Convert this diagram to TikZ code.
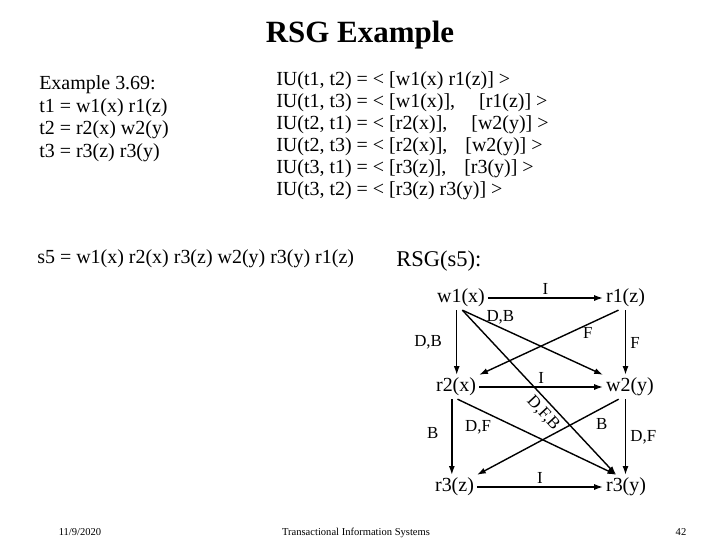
\documentclass[tikz,border=0pt]{standalone}
\usepackage{fontspec}
\setmainfont{Liberation Serif}
\usetikzlibrary{arrows.meta,positioning}
\tikzset{
  opnode/.style={anchor=west, inner sep=2pt, font=\fontsize{14.2}{16}\selectfont},
  edgelabel/.style={inner sep=2pt, font=\fontsize{12}{14}\selectfont},
  rsgarrow/.style={-{Latex[length=2.2mm,width=1.5mm]}, line width=1pt},
  slidetext/.style={anchor=base west, inner sep=0pt, font=\fontsize{14.2}{16}\selectfont},
  footertext/.style={anchor=base, inner sep=0pt, font=\fontsize{7.5}{9}\selectfont}
}

\begin{document}
\begin{tikzpicture}[x=0.025cm, y=-0.025cm]
\useasboundingbox (0,0) rectangle (720,540);
% title
\node[anchor=base, inner sep=0pt, font=\fontsize{22}{26}\selectfont\bfseries] (title) at (360,42) {RSG Example};
% transactions
\node[slidetext] (ex) at (39,89) {Example 3.69:};
\node[slidetext] (tone) at (39,112) {t1 = w1(x) r1(z)};
\node[slidetext] (ttwo) at (39,134) {t2 = r2(x) w2(y)};
\node[slidetext] (tthree) at (39,157) {t3 = r3(z) r3(y)};
% interleaving units
\node[slidetext] (iuA) at (276,85) {IU(t1, t2) = < [w1(x) r1(z)] >};
\node[slidetext] (iuB) at (276,107) {IU(t1, t3) = < [w1(x)],\hspace{1.2em}[r1(z)] >};
\node[slidetext] (iuC) at (276,129) {IU(t2, t1) = < [r2(x)],\hspace{1.2em}[w2(y)] >};
\node[slidetext] (iuD) at (276,151) {IU(t2, t3) = < [r2(x)],\hspace{0.9em}[w2(y)] >};
\node[slidetext] (iuE) at (276,173) {IU(t3, t1) = < [r3(z)],\hspace{0.9em}[r3(y)] >};
\node[slidetext] (iuF) at (276,195) {IU(t3, t2) = < [r3(z) r3(y)] >};
% schedule
\node[slidetext] (sched) at (37,263) {s5 = w1(x) r2(x) r3(z) w2(y) r3(y) r1(z)};
\node[slidetext, font=\fontsize{16}{19}\selectfont] (rsg) at (396,266) {RSG(s5):};
% graph
\node[opnode] (w1) at (434,298) {w1(x)};
\node[opnode] (r1) at (603,298) {r1(z)};
\node[opnode] (r2) at (433,387) {r2(x)};
\node[opnode] (w2) at (603,387) {w2(y)};
\node[opnode] (r3z) at (432,487) {r3(z)};
\node[opnode] (r3y) at (603,487) {r3(y)};
\draw[rsgarrow] (w1) -- node[edgelabel, above] {I} (r1);
\draw[rsgarrow] ([xshift=-3pt]w1.south) -- node[edgelabel, left=8pt] {D,B} ([xshift=-3pt]w1.south |- r2.north);
\draw[rsgarrow] ([xshift=1pt]w1.south) -- node[edgelabel, pos=0.27, above] {D,B} (w2.north west);
\draw[rsgarrow] ([xshift=1pt]w1.south) -- node[edgelabel, pos=0.58, sloped, below=1pt] {D,F,B} ([xshift=-7pt]r3y.north);
\draw[rsgarrow] ([xshift=-5pt]r1.south) -- node[edgelabel, pos=0.22, below] {F} (r2.north east);
\draw[rsgarrow] (r1.south) -- node[edgelabel, right=1pt] {F} (r1.south |- w2.north);
\draw[rsgarrow] (r2) -- node[edgelabel, above] {I} (w2);
\draw[rsgarrow] ([xshift=-3pt]r2.south) -- node[edgelabel, pos=0.45, left=7pt] {B} ([xshift=-3pt]r2.south |- r3z.north);
\draw[rsgarrow] ([xshift=1pt]r2.south) -- node[edgelabel, pos=0.13, below=6pt] {D,F} ([xshift=-7pt]r3y.north);
\draw[rsgarrow] ([xshift=-8pt]w2.south) -- node[edgelabel, pos=0.12, below=5pt] {B} (r3z.north east);
\draw[rsgarrow] (r1.south |- w2.south) -- node[edgelabel, right=1pt] {D,F} (r1.south |- r3y.north);
\draw[rsgarrow] (r3z) -- node[edgelabel, above] {I} (r3y);
% footer
\node[footertext] (date) at (80,535) {11/9/2020};
\node[footertext] (course) at (356,535) {Transactional Information Systems};
\node[footertext] (page) at (681,535) {42};
\end{tikzpicture}
\end{document}
